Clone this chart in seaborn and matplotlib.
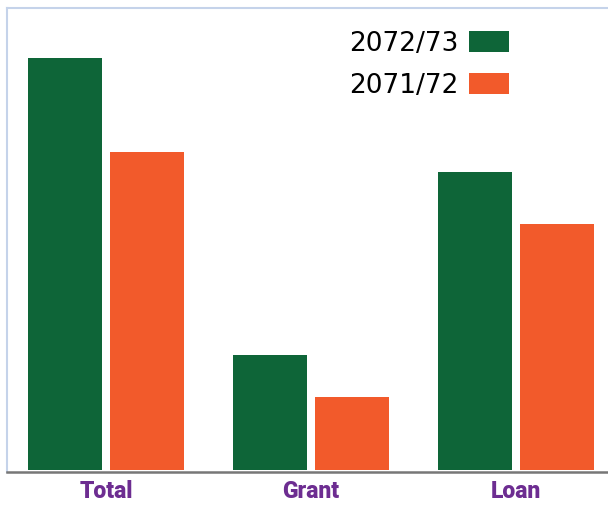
import matplotlib
matplotlib.use("Agg")
import matplotlib.pyplot as plt
import seaborn as sns
import pandas as pd

categories = ["Total", "Grant", "Loan"]
years = ["2072/73", "2071/72"]
values_2072 = [41.2, 11.5, 29.8]
values_2071 = [31.8, 7.3, 24.6]

df = pd.DataFrame({
    "category": categories * 2,
    "year": [years[0]] * 3 + [years[1]] * 3,
    "value": values_2072 + values_2071,
})

sns.set_theme(style="white")
plt.rcParams["font.family"] = ["DejaVu Sans"]

fig = plt.figure(figsize=(6.08, 5.21), dpi=100)
ax = fig.add_axes([7 / 608, 49 / 521, 1 - 7 / 608, (472 - 8) / 521])

palette = {"2072/73": "#0e6538", "2071/72": "#f25a2b"}
sns.barplot(data=df, x="category", y="value", hue="year", palette=palette,
            width=0.8, gap=0.1, saturation=1, ax=ax, order=categories,
            hue_order=years, linewidth=0)

ax.set_xlim(-0.483, 2.449)
ax.set_ylim(-0.2, 46.2)
ax.set_xlabel("")
ax.set_ylabel("")
ax.set_yticks([])
ax.tick_params(axis="x", length=0, pad=6)
for lab in ax.get_xticklabels():
    lab.set_fontfamily(["Roboto", "DejaVu Sans"])
    lab.set_fontweight("black")
    lab.set_fontsize(16.5)
    lab.set_color("#6d2d91")

for s in ["top", "left"]:
    ax.spines[s].set_visible(True)
    ax.spines[s].set_color("#c5d3ea")
    ax.spines[s].set_linewidth(1.5)
ax.spines["right"].set_visible(False)
ax.spines["bottom"].set_color("#777777")
ax.spines["bottom"].set_linewidth(1.8)

leg = ax.legend(loc="upper right", bbox_to_anchor=(509 / 608, 1 - 31 / 521),
                bbox_transform=fig.transFigure, frameon=False,
                markerfirst=False, fontsize=19, handlelength=1.5,
                handleheight=0.83, handletextpad=0.4, labelspacing=0.6,
                borderpad=0, borderaxespad=0, title=None)
for t in leg.get_texts():
    t.set_color("black")

fig.savefig("out.png", dpi=100)
